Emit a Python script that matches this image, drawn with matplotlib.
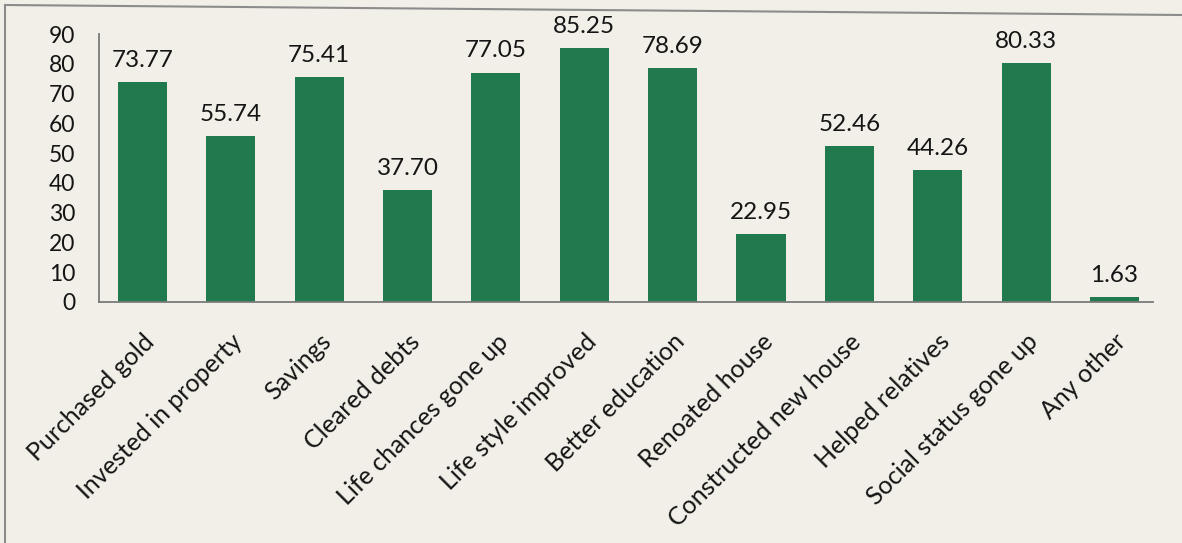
import numpy as np
import matplotlib.pyplot as plt
from matplotlib.lines import Line2D

categories = ['Purchased gold', 'Invested in property', 'Savings', 'Cleared debts',
              'Life chances gone up', 'Life style improved', 'Better education',
              'Renoated house', 'Constructed new house', 'Helped relatives',
              'Social status gone up', 'Any other']
values = [73.77, 55.74, 75.41, 37.70, 77.05, 85.25, 78.69, 22.95, 52.46, 44.26, 80.33, 1.63]
labels = ['73.77', '55.74', '75.41', '37.70', '77.05', '85.25', '78.69',
          '22.95', '52.46', '44.26', '80.33', '1.63']

plt.rcParams['font.family'] = ['Lato', 'DejaVu Sans']

W, H = 1182, 543
bg = '#f1efe7'
fig = plt.figure(figsize=(W / 100, H / 100), dpi=100, facecolor=bg)
# plot area in pixels: left spine x=99, right end x=1153, bottom y=302, top y=34
ax = fig.add_axes([99 / W, 1 - 302 / H, (1153 - 99) / W, (302 - 34) / H], facecolor=bg)

x = np.arange(len(categories))
bars = ax.bar(x, values, width=0.555, color='#217a4d')

for b, lab in zip(bars, labels):
    ax.annotate(lab, (b.get_x() + b.get_width() / 2, b.get_height()),
                xytext=(0, 8), textcoords='offset points',
                ha='center', va='bottom', fontsize=17.5, color='#151515')

ax.set_xlim(-0.492, 11.436)
ax.set_ylim(0, 90)
ax.set_yticks(np.arange(0, 91, 10))
ax.set_xticks(x)
ax.set_xticklabels(categories, rotation=45, ha='right', va='top', rotation_mode='anchor')
ax.tick_params(axis='y', length=0, pad=17, labelsize=16.5, labelcolor='#151515')
ax.tick_params(axis='x', length=0, pad=20, labelsize=18, labelcolor='#151515')

for s in ['top', 'right']:
    ax.spines[s].set_visible(False)
for s in ['left', 'bottom']:
    ax.spines[s].set_color('#7a7a7a')
    ax.spines[s].set_linewidth(1.3)

# chart frame edges along the top and left
fig.add_artist(Line2D([5 / W, 1], [1 - 5 / H, 1 - 15 / H], transform=fig.transFigure,
                      color='#8c8c8c', linewidth=1.5))
fig.add_artist(Line2D([5 / W, 5 / W], [0, 1 - 5 / H], transform=fig.transFigure,
                      color='#8c8c8c', linewidth=1.5))

fig.savefig('out.png', dpi=100, facecolor=bg)
